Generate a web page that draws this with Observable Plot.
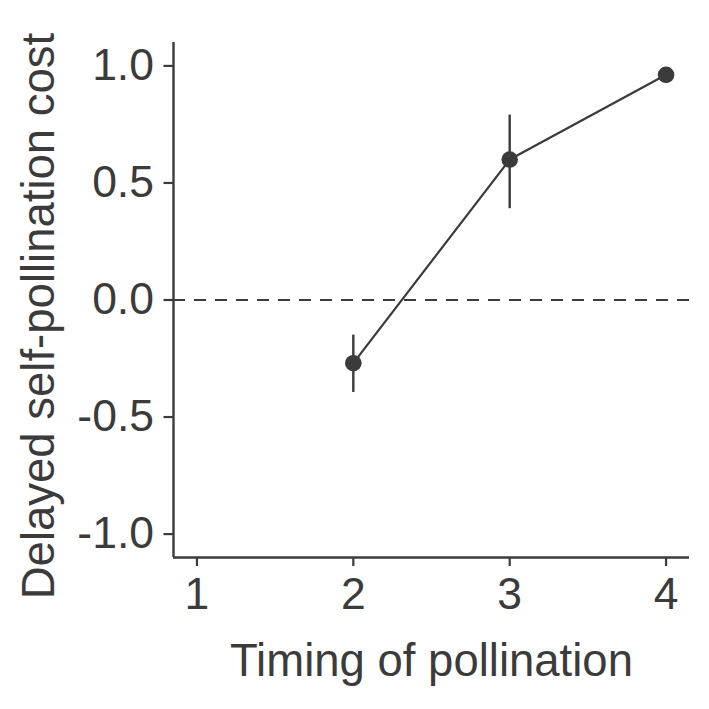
<!DOCTYPE html>
<html>
<head>
<meta charset="utf-8">
<script src="https://cdn.jsdelivr.net/npm/d3@7"></script>
<script src="https://cdn.jsdelivr.net/npm/@observablehq/plot@0.6"></script>
<style>
  html, body { margin: 0; padding: 0; background: #fff; }
  #chart svg { display: block; }
</style>
</head>
<body>
<div id="chart"></div>
<script>
const timing = [2, 3, 4];
const cost = [-0.27, 0.60, 0.962];
const lower = [-0.395, 0.39, 0.925];
const upper = [-0.15, 0.79, 0.99];
const xTicks = [1, 2, 3, 4];
const yTicks = [-1, -0.5, 0, 0.5, 1];
const xLabel = "Timing of pollination";
const yLabel = "Delayed self-pollination cost";

const data = timing.map((t, i) => ({timing: t, cost: cost[i], lo: lower[i], hi: upper[i]}));
const ink = "#3b3b3b";
const font = "'Liberation Sans', Arial, Helvetica, sans-serif";

const chart = Plot.plot({
  width: 709,
  height: 709,
  marginLeft: 173,
  marginRight: 20,
  marginTop: 42,
  marginBottom: 152,
  style: {fontFamily: font, color: ink, background: "#fff"},
  x: {domain: [0.85, 4.15]},
  y: {domain: [-1.1, 1.1]},
  marks: [
    Plot.ruleY([0], {stroke: ink, strokeWidth: 2.2, strokeDasharray: "12,9"}),
    Plot.ruleX(data, {x: "timing", y1: "lo", y2: "hi", stroke: ink, strokeWidth: 2.4}),
    Plot.line(data, {x: "timing", y: "cost", stroke: ink, strokeWidth: 2.2}),
    Plot.dot(data, {x: "timing", y: "cost", r: 8.3, fill: ink, stroke: null}),
    Plot.axisY({ticks: yTicks, tickFormat: d => d.toFixed(1), tickSize: 9.5, tickPadding: 10,
      fontSize: 44.5, stroke: ink, strokeWidth: 2.2, strokeOpacity: 1, fill: ink, label: null}),
    Plot.axisX({ticks: xTicks, tickFormat: d => String(d), tickSize: 9, tickPadding: 11,
      fontSize: 44.5, stroke: ink, strokeWidth: 2.2, strokeOpacity: 1, fill: ink, label: null}),
    Plot.ruleX([0.85], {stroke: ink, strokeWidth: 2.4}),
    Plot.ruleY([-1.1], {stroke: ink, strokeWidth: 2.4}),
    Plot.text([xLabel], {frameAnchor: "bottom", dy: 118, fontSize: 45.5, fill: ink, textAnchor: "middle", lineAnchor: "bottom", text: d => d}),
    Plot.text([yLabel], {frameAnchor: "left", dx: -134, dy: 16, rotate: -90, fontSize: 45.5, fill: ink, textAnchor: "middle", lineAnchor: "middle", text: d => d})
  ]
});
document.getElementById("chart").appendChild(chart);
</script>
</body>
</html>
